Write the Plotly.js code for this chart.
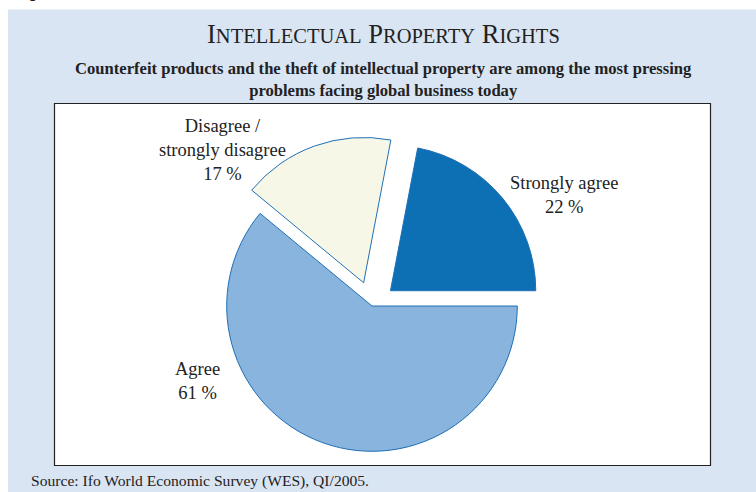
<!DOCTYPE html>
<html>
<head>
<meta charset="utf-8">
<script src="https://cdn.plot.ly/plotly-3.0.1.min.js"></script>
<style>html,body{margin:0;padding:0;background:#fff;}#chart{width:756px;height:492px;}</style>
</head>
<body>
<div id="chart"></div>
<script>
// Data
var categories = ["Strongly agree", "Agree", "Disagree /<br>strongly disagree"];
var values = [22, 61, 17];
var pulls = [0.165, 0, 0.17];
var sliceColors = ["#0d6fb4", "#88b4dd", "#f7f7e7"];
var titleText = "Intellectual Property Rights";
var subtitleText = "Counterfeit products and the theft of intellectual property are among the most pressing<br>problems facing global business today";
var sourceText = "Source: Ifo World Economic Survey (WES), QI/2005.";

var W = 756, H = 492;
function px(x){ return x / W; }
function py(y){ return 1 - y / H; }

// small caps helper
function smallCaps(s, big, small){
  return s.split(" ").map(function(w){
    return '<span style="font-size:' + big + 'px">' + w.charAt(0).toUpperCase() + '</span>' +
           '<span style="font-size:' + small + 'px">' + w.slice(1).toUpperCase() + '</span>';
  }).join(" ");
}

var cx = 372, cy = 306, half = 170;

var trace = {
  type: "pie",
  labels: categories,
  values: values,
  sort: false,
  direction: "clockwise",
  rotation: 10.8,
  pull: pulls,
  marker: { colors: sliceColors, line: { color: "#1f6fb5", width: 1 } },
  textinfo: "none",
  hoverinfo: "label+percent",
  showlegend: false,
  domain: { x: [px(cx - half), px(cx + half)], y: [py(cy + half), py(cy - half)] }
};

var labelFont = { family: "Liberation Serif, Times New Roman, serif", size: 18.5, color: "#222" };
var labelPos = [[564, 195], [197, 381], [222, 150]];
var annotations = categories.map(function(c, i){
  return {
    xref: "paper", yref: "paper",
    x: px(labelPos[i][0]), y: py(labelPos[i][1]),
    xanchor: "center", yanchor: "middle",
    text: c + "<br>" + values[i] + " %",
    showarrow: false, font: labelFont, align: "center"
  };
});

annotations.push({
  xref: "paper", yref: "paper", x: px(383), y: py(34), xanchor: "center", yanchor: "middle",
  text: smallCaps(titleText, 26.5, 20.5), showarrow: false,
  font: { family: "Liberation Serif, Times New Roman, serif", size: 26.5, color: "#222" }
});
annotations.push({
  xref: "paper", yref: "paper", x: px(383), y: py(79), xanchor: "center", yanchor: "middle",
  text: "<b>" + subtitleText + "</b>", showarrow: false, align: "center",
  font: { family: "Liberation Serif, Times New Roman, serif", size: 16.6, color: "#222" }
});
annotations.push({
  xref: "paper", yref: "paper", x: px(29), y: py(481), xanchor: "left", yanchor: "middle",
  text: sourceText, showarrow: false,
  font: { family: "Liberation Serif, Times New Roman, serif", size: 15.6, color: "#222" }
});
annotations.push({
  xref: "paper", yref: "paper", x: px(14), y: py(-7), xanchor: "left", yanchor: "middle",
  text: "<b>Figure</b>", showarrow: false,
  font: { family: "Liberation Sans, Arial, sans-serif", size: 14, color: "#222" }
});

var layout = {
  width: W, height: H,
  margin: { l: 0, r: 0, t: 0, b: 0 },
  paper_bgcolor: "#ffffff",
  showlegend: false,
  shapes: [
    { type: "rect", xref: "paper", yref: "paper", x0: px(8), x1: 1, y0: 0, y1: py(9.5),
      fillcolor: "#dae5f3", line: { width: 0 }, layer: "below" },
    { type: "rect", xref: "paper", yref: "paper", x0: px(54.5), x1: px(710.5), y0: py(465.5), y1: py(103.5),
      fillcolor: "#ffffff", line: { color: "#222", width: 1.2 }, layer: "below" }
  ],
  annotations: annotations
};

Plotly.newPlot("chart", [trace], layout, { displayModeBar: false, staticPlot: true });
</script>
</body>
</html>
